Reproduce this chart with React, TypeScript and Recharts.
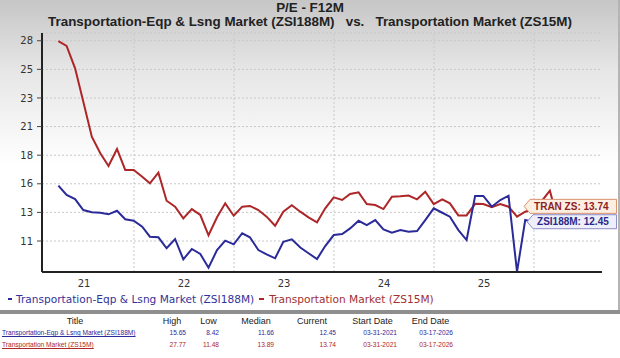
import React from 'react';
import { LineChart, Line, XAxis, YAxis, CartesianGrid, ReferenceLine } from 'recharts';

const dates = [
  '2021-03-31', '2021-04-30', '2021-05-31', '2021-06-30', '2021-07-31', '2021-08-31', '2021-09-30', '2021-10-31', '2021-11-30', '2021-12-31',
  '2022-01-31', '2022-02-28', '2022-03-31', '2022-04-30', '2022-05-31', '2022-06-30', '2022-07-31', '2022-08-31', '2022-09-30', '2022-10-31', '2022-11-30', '2022-12-31',
  '2023-01-31', '2023-02-28', '2023-03-31', '2023-04-30', '2023-05-31', '2023-06-30', '2023-07-31', '2023-08-31', '2023-09-30', '2023-10-31', '2023-11-30', '2023-12-31',
  '2024-01-31', '2024-02-29', '2024-03-31', '2024-04-30', '2024-05-31', '2024-06-30', '2024-07-31', '2024-08-31', '2024-09-30', '2024-10-31', '2024-11-30', '2024-12-31',
  '2025-01-31', '2025-02-28', '2025-03-31', '2025-04-30', '2025-05-31', '2025-06-30', '2025-07-31', '2025-08-31', '2025-09-30', '2025-10-31', '2025-11-30', '2025-12-31',
  '2026-01-31', '2026-02-28', '2026-03-17',
];

// Transportation Market (ZS15M)
const zs15m = [
  27.77, 27.36, 25.49, 22.69, 19.75, 18.36, 17.29, 18.72, 16.96, 16.96,
  16.39, 15.84, 16.73, 14.38, 13.88, 12.9, 13.68, 13.18, 11.48, 12.99, 14.16, 13.12,
  13.88, 13.94, 13.6, 13.04, 12.28, 13.46, 14.0, 13.46, 12.99, 12.57, 13.74, 14.66,
  14.44, 14.94, 15.08, 14.1, 14.02, 13.68, 14.72, 14.75, 14.82, 14.5, 15.14, 14.1,
  14.5, 14.16, 13.15, 13.15, 14.12, 14.1, 13.83, 14.1, 13.88, 13.04, 13.46, 13.7,
  14.4, 15.22, 13.74,
];

// Transportation-Eqp & Lsng Market (ZSI188M)
const zsi188m = [
  15.65, 14.86, 14.52, 13.6, 13.41, 13.37, 13.24, 13.54, 12.82, 12.7,
  12.2, 11.36, 11.31, 10.39, 11.17, 9.46, 10.33, 9.91, 8.76, 10.24, 11.03, 10.72,
  11.65, 11.31, 10.24, 9.88, 9.55, 10.94, 11.14, 10.45, 9.97, 9.49, 10.58, 11.5,
  11.59, 12.06, 12.7, 12.34, 12.76, 11.98, 11.7, 11.92, 11.78, 11.84, 12.76, 13.74,
  13.37, 13.04, 11.92, 11.08, 14.78, 14.78, 13.88, 14.44, 14.8, 8.42, 12.76, 12.6,
  12.5, 12.5, 12.45,
];

const yTicks = [11, 13.4, 15.8, 18.2, 20.6, 23, 25.4, 27.8];
const xTicks = [2021.5, 2022.5, 2023.5, 2024.5, 2025.5];
const yearLines = [2022, 2023, 2024, 2025, 2026];

const tableTitles = ['Transportation-Eqp & Lsng Market (ZSI188M)', 'Transportation Market (ZS15M)'];
const tableHigh = ['15.65', '27.77'];
const tableLow = ['8.42', '11.48'];
const tableMedian = ['11.66', '13.89'];
const tableCurrent = ['12.45', '13.74'];
const tableStart = ['03-31-2021', '03-31-2021'];
const tableEnd = ['03-17-2026', '03-17-2026'];

const RED = '#ad2628';
const BLUE = '#2a2a98';

const toYear = (s: string) => {
  const [y, m, d] = s.split('-').map(Number);
  const start = Date.UTC(y, 0, 1);
  const len = Date.UTC(y + 1, 0, 1) - start;
  return y + (Date.UTC(y, m - 1, d) - start) / len;
};

const rows = dates.map((d, i) => ({ t: toYear(d), tran: zs15m[i], zsi: zsi188m[i] }));
const last = rows.length - 1;

// price-tag style label drawn on the last point only
const tagDot = (text: string, fill: string, stroke: string, color: string, tipOff: number) => (p: any) => {
  if (p.index !== last) return <g key={p.index} />;
  const tip = p.cx - tipOff;
  const cy = p.cy - 2;
  const right = p.cx + 62;
  const h = 7;
  return (
    <g key="tag">
      <path
        d={`M${tip},${cy} L${tip + 6},${cy - h} L${right},${cy - h} L${right},${cy + h} L${tip + 6},${cy + h} Z`}
        fill={fill}
        stroke={stroke}
        strokeWidth={1}
      />
      <text x={tip + 10} y={cy + 3.6} fontSize={10} fontWeight="bold" fontFamily="Liberation Sans, Arial" fill={color}>
        {text}
      </text>
    </g>
  );
};

const axisFont = { fontSize: 10, fontFamily: 'DejaVu Sans', fill: '#333' };

export default function App() {
  const cols = [
    { left: 150, width: 36, vals: tableHigh, head: 'High' },
    { left: 190, width: 29, vals: tableLow, head: 'Low' },
    { left: 230, width: 44, vals: tableMedian, head: 'Median' },
    { left: 280, width: 56, vals: tableCurrent, head: 'Current' },
    { left: 340, width: 57, vals: tableStart, head: 'Start Date' },
    { left: 400, width: 53, vals: tableEnd, head: 'End Date' },
  ];
  const rowColors = [BLUE, RED];
  return (
    <div style={{ position: 'relative', width: 620, height: 358, overflow: 'hidden', background: '#fff', fontFamily: 'Liberation Sans, Arial, sans-serif' }}>
      <style>{'body{margin:0}'}</style>
      <div style={{ position: 'absolute', left: 0, top: 0, width: 620, height: 310, background: 'linear-gradient(#c6c6c6 0px, #e6e6e6 70px, #ffffff 165px)', borderRight: '2px solid #b4b4b4', boxSizing: 'border-box' }} />
      <div style={{ position: 'absolute', left: 0, top: 1, width: 620, textAlign: 'center', fontWeight: 'bold', fontSize: 13.4, color: '#222', lineHeight: '14px' }}>
        P/E - F12M
        <br />
        <span style={{ whiteSpace: 'pre' }}>Transportation-Eqp &amp; Lsng Market (ZSI188M)   vs.   Transportation Market (ZS15M)</span>
      </div>
      <div style={{ position: 'absolute', left: 0, top: 0 }}>
        <LineChart width={620} height={310} data={rows} margin={{ top: 33, right: 18, bottom: 18, left: 0 }}>
          <CartesianGrid vertical={false} stroke="#c8c8c8" strokeDasharray="2 2" />
          {yearLines.map((yr) => (
            <ReferenceLine key={yr} x={yr} stroke="#c8c8c8" strokeDasharray="2 2" />
          ))}
          <XAxis
            dataKey="t"
            type="number"
            domain={[2021.08, 2026.68]}
            ticks={xTicks}
            tickFormatter={(v: number) => String(Math.floor(v)).slice(2)}
            tickLine={false}
            axisLine={{ stroke: '#222', strokeWidth: 2 }}
            tick={axisFont}
            height={20}
          />
          <YAxis
            type="number"
            domain={[8.4, 28.45]}
            ticks={yTicks}
            tickFormatter={(v: number) => String(Math.round(v))}
            width={42}
            tickSize={5}
            tickMargin={4}
            tickLine={{ stroke: '#444' }}
            axisLine={{ stroke: '#222', strokeWidth: 2 }}
            tick={axisFont}
          />
          <Line
            dataKey="tran"
            stroke={RED}
            strokeWidth={2}
            isAnimationActive={false}
            dot={tagDot('TRAN ZS: 13.74', '#fcefe2', '#d9926e', '#8e1e1e', 30.5)}
            activeDot={false}
          />
          <Line
            dataKey="zsi"
            stroke={BLUE}
            strokeWidth={2}
            isAnimationActive={false}
            dot={tagDot('ZSI188M: 12.45', '#eeeffa', '#8c8cc8', '#2a2a88', 27.5)}
            activeDot={false}
          />
        </LineChart>
      </div>
      <div style={{ position: 'absolute', left: 6, top: 293, fontFamily: 'DejaVu Sans', fontSize: 10.6, whiteSpace: 'nowrap', display: 'flex', alignItems: 'center' }}>
        <span style={{ display: 'inline-block', width: 4, height: 2, background: BLUE, marginRight: 4, marginLeft: 2 }} />
        <span style={{ color: '#333399' }}>Transportation-Eqp &amp; Lsng Market (ZSI188M)</span>
        <span style={{ display: 'inline-block', width: 5, height: 2, background: RED, margin: '0 5px 0 5px' }} />
        <span style={{ color: '#a23030' }}>Transportation Market (ZS15M)</span>
      </div>
      <div style={{ position: 'absolute', left: 0, top: 310, width: 620, height: 4, background: '#8e8e8e' }} />
      <div style={{ position: 'absolute', left: 0, top: 316, width: 150, textAlign: 'center', fontSize: 9, color: '#222' }}>Title</div>
      {cols.map((c) => (
        <div key={c.head} style={{ position: 'absolute', left: c.left, top: 316, width: c.width + 8, textAlign: 'center', fontSize: 9, color: '#222' }}>
          {c.head}
        </div>
      ))}
      {tableTitles.map((t, i) => (
        <div key={t} style={{ position: 'absolute', left: 2, top: 329 + i * 12, fontSize: 6.6, color: rowColors[i], textDecoration: 'underline', whiteSpace: 'nowrap' }}>
          {t}
        </div>
      ))}
      {cols.map((c) =>
        c.vals.map((v, i) => (
          <div key={c.head + i} style={{ position: 'absolute', left: c.left, top: 329 + i * 12, width: c.width, textAlign: 'right', fontSize: 6.6, color: rowColors[i] }}>
            {v}
          </div>
        ))
      )}
    </div>
  );
}
